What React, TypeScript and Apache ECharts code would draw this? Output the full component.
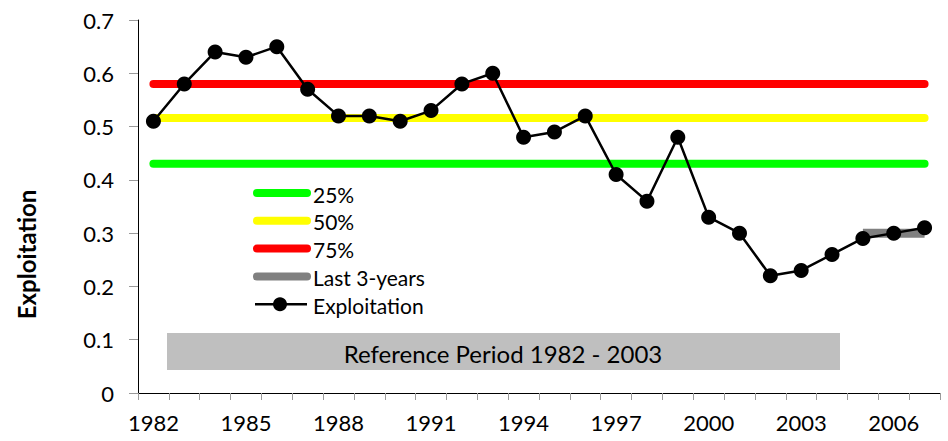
import React, { useEffect, useRef } from "react";
import * as echarts from "echarts";

const years: string[] = [
  "1982", "1983", "1984", "1985", "1986", "1987", "1988", "1989", "1990", "1991",
  "1992", "1993", "1994", "1995", "1996", "1997", "1998", "1999", "2000", "2001",
  "2002", "2003", "2004", "2005", "2006", "2007",
];
const exploitation: number[] = [
  0.51, 0.58, 0.64, 0.63, 0.65, 0.57, 0.52, 0.52, 0.51, 0.53,
  0.58, 0.60, 0.48, 0.49, 0.52, 0.41, 0.36, 0.48, 0.33, 0.30,
  0.22, 0.23, 0.26, 0.29, 0.30, 0.31,
];
const p25 = 0.43;
const p50 = 0.516;
const p75 = 0.58;
const last3Mean = 0.30;
const last3Years: string[] = ["2005", "2007"];
const referenceLabel = "Reference Period 1982 - 2003";
const legendNames: string[] = ["25%", "50%", "75%", "Last 3-years", "Exploitation"];
const legendColors: string[] = ["#00ff00", "#ffff00", "#ff0000", "#808080", "#000000"];

const FONT = "Lato";

export default function App() {
  const ref = useRef<HTMLDivElement>(null);
  useEffect(() => {
    if (!ref.current) return;
    const chart = echarts.init(ref.current, undefined, { renderer: "svg" });
    const first = years[0];
    const last = years[years.length - 1];
    const hline = (name: string, color: string, v: number) => ({
      name,
      type: "line",
      data: [[first, v], [last, v]],
      symbol: "none",
      lineStyle: { color, width: 8, cap: "round" },
      itemStyle: { color },
      z: 2,
    });

    const legendX = 253;
    const legendY0 = 193;
    const legendStep = 27.8;
    const legendGraphics: any[] = [];
    legendNames.forEach((name, i) => {
      const y = legendY0 + i * legendStep;
      const isMain = i === legendNames.length - 1;
      legendGraphics.push({
        type: "line",
        shape: isMain
          ? { x1: legendX + 2, y1: y, x2: legendX + 54, y2: y }
          : { x1: legendX + 4, y1: y, x2: legendX + 54, y2: y },
        style: {
          stroke: legendColors[i],
          lineWidth: isMain ? 2.5 : 8,
          lineCap: isMain ? "butt" : "round",
        },
        z: 10,
      });
      if (isMain) {
        legendGraphics.push({
          type: "circle",
          shape: { cx: legendX + 27, cy: y, r: 7 },
          style: { fill: "#000" },
          z: 11,
        });
      }
      legendGraphics.push({
        type: "text",
        x: legendX + 60,
        y: y + 1,
        style: {
          text: name,
          fontFamily: FONT,
          fontSize: 21,
          fill: "#000",
          textAlign: "left",
          textVerticalAlign: "middle",
        },
        z: 11,
      });
    });

    chart.setOption({
      animation: false,
      textStyle: { fontFamily: FONT },
      grid: { left: 138, right: 8, top: 20, bottom: 48, containLabel: false },
      xAxis: {
        type: "category",
        data: years,
        boundaryGap: true,
        axisLine: { lineStyle: { color: "#000", width: 1 } },
        axisTick: { show: true, interval: 0, length: 7, lineStyle: { color: "#9a9a9a" } },
        axisLabel: { interval: 2, fontFamily: FONT, fontSize: 22, color: "#000", margin: 18 },
        splitLine: { show: false },
      },
      yAxis: {
        type: "value",
        min: 0,
        max: 0.7,
        interval: 0.1,
        name: "Exploitation",
        nameLocation: "middle",
        nameGap: 100,
        nameTextStyle: {
          fontFamily: FONT,
          fontSize: 24,
          fontWeight: "bold",
          color: "#000",
          padding: [0, 96, 0, 0],
        },
        axisLine: { show: true, lineStyle: { color: "#000", width: 1 } },
        axisTick: { show: true, length: 9, lineStyle: { color: "#9a9a9a" } },
        axisLabel: { fontFamily: FONT, fontSize: 22, color: "#000", margin: 24 },
        splitLine: { show: false },
      },
      graphic: [
        {
          type: "rect",
          shape: { x: 167, y: 333, width: 673, height: 37 },
          style: { fill: "#bfbfbf" },
          z: 1,
        },
        {
          type: "text",
          x: 503,
          y: 353,
          style: {
            text: referenceLabel,
            fontFamily: FONT,
            fontSize: 24,
            fill: "#000",
            textAlign: "center",
            textVerticalAlign: "middle",
          },
          z: 2,
        },
        ...legendGraphics,
      ],
      series: [
        hline(legendNames[0], legendColors[0], p25),
        hline(legendNames[1], legendColors[1], p50),
        hline(legendNames[2], legendColors[2], p75),
        {
          name: legendNames[3],
          type: "line",
          data: last3Years.map((y) => [y, last3Mean]),
          symbol: "none",
          lineStyle: { color: "#808080", width: 9, cap: "butt" },
          itemStyle: { color: "#808080" },
          z: 3,
        },
        {
          name: legendNames[4],
          type: "line",
          data: exploitation,
          symbol: "circle",
          symbolSize: 15,
          lineStyle: { color: "#000", width: 2.5 },
          itemStyle: { color: "#000" },
          z: 4,
        },
      ],
    });
    return () => chart.dispose();
  }, []);
  return <div ref={ref} style={{ width: 948, height: 441, position: "absolute", left: 0, top: 0 }} />;
}
